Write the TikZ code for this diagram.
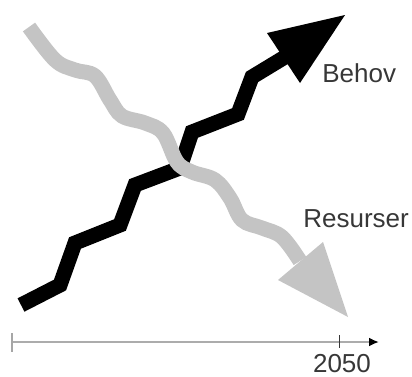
\documentclass[tikz,border=0pt]{standalone}
\usepackage{fontspec}
\setmainfont{Liberation Sans}
\usetikzlibrary{arrows.meta}

\definecolor{lysgraa}{RGB}{196,196,196}
\definecolor{tekst}{RGB}{55,55,55}

\begin{document}
\begin{tikzpicture}[x=.5pt, y=-.5pt]
		\useasboundingbox (0,0) rectangle (412,376);
		\tikzstyle{every node} = [inner sep=0, text=tekst, font=\fontsize{13}{15}\selectfont]
		\tikzstyle{pil} = [line width=7.5pt, line join=miter, line cap=butt]

		% behov: black zigzag going up
		\draw [pil, black] (21,305) -- (60,285) -- (75,243) -- (120,225) -- (135,185)
			-- (180,168) -- (192,132) -- (238,114) -- (252,77) -- (285,57);
		\fill [black] (267,33) -- (345,15) -- (300,83) -- cycle;

		% resurser: gray wave going down
		\draw [pil, lysgraa] plot [smooth, tension=.6] coordinates {
			(29,27) (55,60) (75,70) (95,76) (110,100) (122,116) (145,123) (163,133)
			(177,162) (192,172) (215,180) (230,198) (242,220) (262,228) (282,237) (300,261)};
		\fill [lysgraa] (278,280) -- (323,242) -- (348,317) -- cycle;

		\node [anchor=west] (behov) at (322,73.5) {Behov};
		\node [anchor=west] (resurser) at (303,218.5) {Resurser};

		% time axis
		\coordinate (t0) at (12,342);
		\coordinate (t1) at (339,342);
		\coordinate (t2) at (379,342);
		\draw [gray!65, line width=1.4pt, -{Latex[black, length=5pt, width=4.5pt]}] (t0) -- (t2);
		\draw [gray!70, line width=1.2pt] (t0) ++(0,-9) -- ++(0,19);
		\draw [tekst, line width=.5pt] (t1) ++(0,-7) -- ++(0,13);
		\node [anchor=south] (aar) at (342,373) {2050};
\end{tikzpicture}
\end{document}
